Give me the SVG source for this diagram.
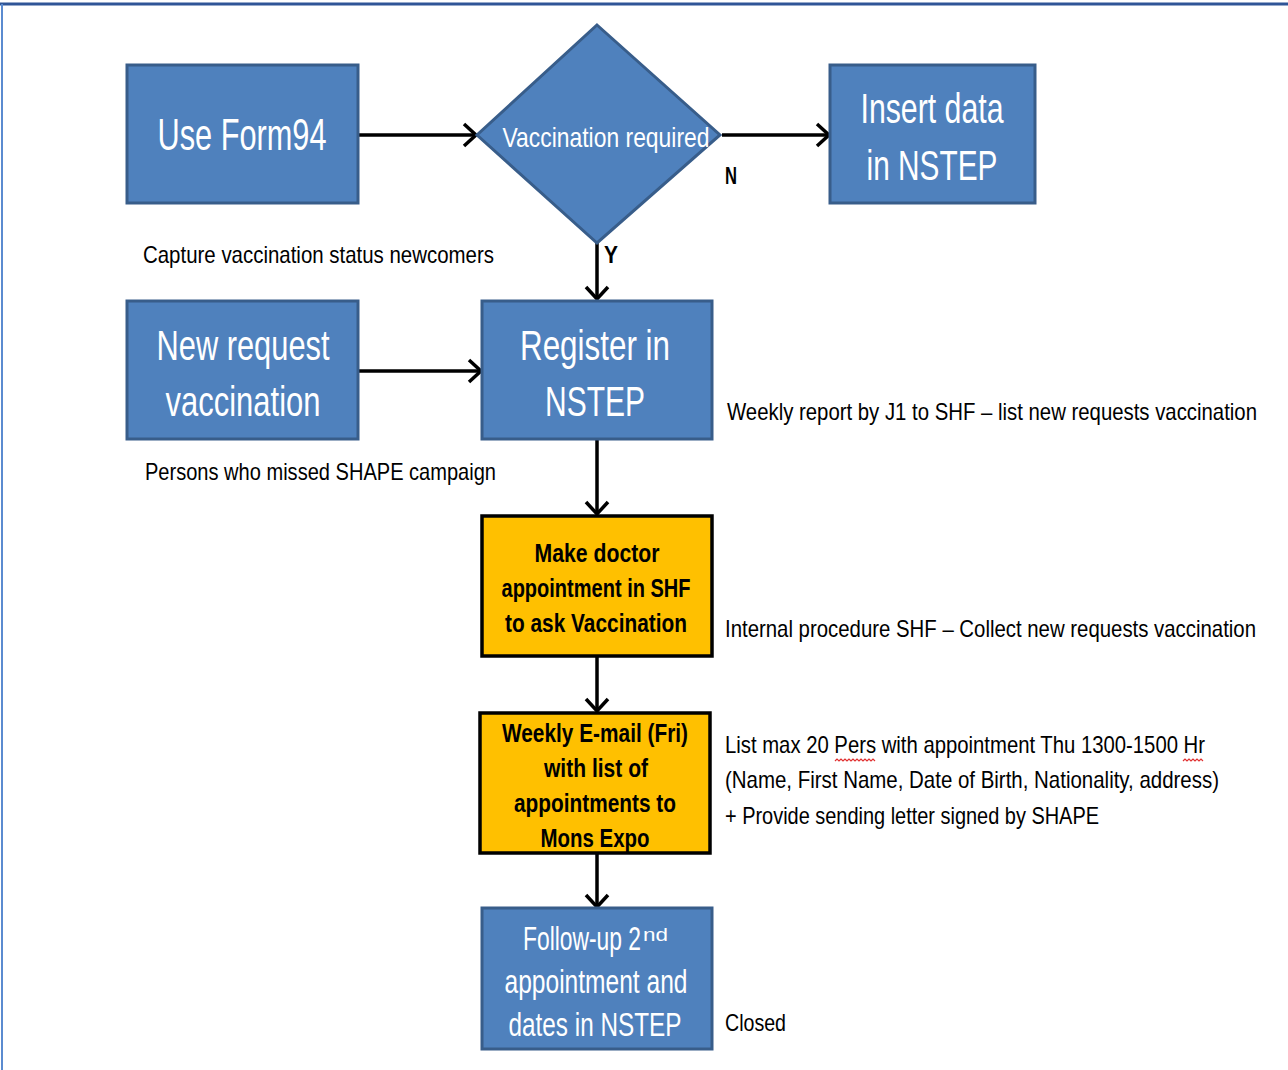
<svg xmlns="http://www.w3.org/2000/svg" width="1288" height="1070" viewBox="0 0 1288 1070">
<style>
text{font-family:"Liberation Sans Narrow","Liberation Sans",Arial,sans-serif}
.blue{fill:#4F81BD;stroke:#385D8A;stroke-width:3}
.gold{fill:#FFC000;stroke:#000;stroke-width:3.5}
.wt{fill:#fff;text-anchor:middle}
.bt{fill:#000;font-weight:bold;text-anchor:middle;font-size:26px}
.lbl{fill:#000;font-size:24px}
.conn line{stroke:#000;stroke-width:3.5;fill:none}
</style>
<defs>
<marker id="arr" markerUnits="userSpaceOnUse" markerWidth="30" markerHeight="30" refX="20" refY="15" orient="auto" viewBox="0 0 30 30">
<path d="M8,4 L20,15 L8,26" fill="none" stroke="#000" stroke-width="3.5"/>
</marker>
</defs>
<rect x="0" y="0" width="1288" height="1070" fill="#fff"/>
<line x1="0" y1="4" x2="1288" y2="4" stroke="#2F5597" stroke-width="3"/>
<line x1="2" y1="4" x2="2" y2="1070" stroke="#5B8BD0" stroke-width="2"/>

<g class="conn">
<line x1="358" y1="135" x2="476" y2="135" marker-end="url(#arr)"/>
<line x1="722" y1="135" x2="829" y2="135" marker-end="url(#arr)"/>
<line x1="597" y1="243" x2="597" y2="299" marker-end="url(#arr)"/>
<line x1="358" y1="371" x2="481" y2="371" marker-end="url(#arr)"/>
<line x1="597" y1="439" x2="597" y2="514" marker-end="url(#arr)"/>
<line x1="597" y1="656" x2="597" y2="711" marker-end="url(#arr)"/>
<line x1="597" y1="853" x2="597" y2="907" marker-end="url(#arr)"/>
</g>

<g id="n-form94">
<rect class="blue" x="127" y="65" width="231" height="138"/>
<text class="wt" x="242" y="150" font-size="44" textLength="169" lengthAdjust="spacingAndGlyphs">Use Form94</text>
</g>
<g id="n-decision">
<polygon class="blue" points="597,25 720,135 597,243 477,135" stroke-width="2"/>
<text class="wt" x="606" y="147" font-size="28" textLength="207" lengthAdjust="spacingAndGlyphs">Vaccination required</text>
</g>
<g id="n-insert">
<rect class="blue" x="830" y="65" width="205" height="138"/>
<text class="wt" x="932" y="123" font-size="42" textLength="143" lengthAdjust="spacingAndGlyphs">Insert data</text>
<text class="wt" x="932" y="180" font-size="42" textLength="131" lengthAdjust="spacingAndGlyphs">in NSTEP</text>
</g>
<g id="n-newrequest">
<rect class="blue" x="127" y="301" width="231" height="138"/>
<text class="wt" x="243" y="360" font-size="42" textLength="173" lengthAdjust="spacingAndGlyphs">New request</text>
<text class="wt" x="243" y="416" font-size="42" textLength="155" lengthAdjust="spacingAndGlyphs">vaccination</text>
</g>
<g id="n-register">
<rect class="blue" x="482" y="301" width="230" height="138"/>
<text class="wt" x="595" y="360" font-size="42" textLength="150" lengthAdjust="spacingAndGlyphs">Register in</text>
<text class="wt" x="595" y="416" font-size="42" textLength="100" lengthAdjust="spacingAndGlyphs">NSTEP</text>
</g>
<g id="n-doctor">
<rect class="gold" x="482" y="516" width="230" height="140"/>
<text class="bt" x="597" y="562" textLength="125" lengthAdjust="spacingAndGlyphs">Make doctor</text>
<text class="bt" x="596" y="597" textLength="189" lengthAdjust="spacingAndGlyphs">appointment in SHF</text>
<text class="bt" x="596" y="632" textLength="182" lengthAdjust="spacingAndGlyphs">to ask Vaccination</text>
</g>
<g id="n-email">
<rect class="gold" x="480" y="713" width="230" height="140"/>
<text class="bt" x="595" y="742" textLength="186" lengthAdjust="spacingAndGlyphs">Weekly E-mail (Fri)</text>
<text class="bt" x="596" y="777" textLength="104" lengthAdjust="spacingAndGlyphs">with list of</text>
<text class="bt" x="595" y="812" textLength="162" lengthAdjust="spacingAndGlyphs">appointments to</text>
<text class="bt" x="595" y="847" textLength="109" lengthAdjust="spacingAndGlyphs">Mons Expo</text>
</g>
<g id="n-followup">
<rect class="blue" x="482" y="908" width="230" height="141"/>
<text class="wt" x="582" y="950" font-size="34" textLength="118" lengthAdjust="spacingAndGlyphs">Follow-up 2</text>
<text x="643" y="941" font-size="18" fill="#fff" textLength="25" lengthAdjust="spacingAndGlyphs">nd</text>
<text class="wt" x="596" y="993" font-size="34" textLength="183" lengthAdjust="spacingAndGlyphs">appointment and</text>
<text class="wt" x="595" y="1036" font-size="34" textLength="173" lengthAdjust="spacingAndGlyphs">dates in NSTEP</text>
</g>

<g id="labels">
<text class="lbl" x="725" y="184" font-size="22" font-weight="bold" textLength="12" lengthAdjust="spacingAndGlyphs">N</text>
<text class="lbl" x="604" y="263" font-size="22" font-weight="bold" textLength="14" lengthAdjust="spacingAndGlyphs">Y</text>
<text class="lbl" x="143" y="263" textLength="351" lengthAdjust="spacingAndGlyphs">Capture vaccination status newcomers</text>
<text class="lbl" x="145" y="480" textLength="351" lengthAdjust="spacingAndGlyphs">Persons who missed SHAPE campaign</text>
<text class="lbl" x="727" y="420" textLength="530" lengthAdjust="spacingAndGlyphs">Weekly report by J1 to SHF – list new requests vaccination</text>
<text class="lbl" x="725" y="637" textLength="531" lengthAdjust="spacingAndGlyphs">Internal procedure SHF – Collect new requests vaccination</text>
<text class="lbl" x="725" y="753" textLength="480" lengthAdjust="spacingAndGlyphs">List max 20 Pers with appointment Thu 1300-1500 Hr</text>
<text class="lbl" x="725" y="788" textLength="494" lengthAdjust="spacingAndGlyphs">(Name, First Name, Date of Birth, Nationality, address)</text>
<text class="lbl" x="725" y="824" textLength="374" lengthAdjust="spacingAndGlyphs">+ Provide sending letter signed by SHAPE</text>
<text class="lbl" x="725" y="1031" textLength="61" lengthAdjust="spacingAndGlyphs">Closed</text>
<path d="M835,761 l2,-2 l2,2 l2,-2 l2,2 l2,-2 l2,2 l2,-2 l2,2 l2,-2 l2,2 l2,-2 l2,2 l2,-2 l2,2 l2,-2 l2,2 l2,-2 l2,2 l2,-2 l2,2" fill="none" stroke="#E03030" stroke-width="1.2"/>
<path d="M1183,761 l2,-2 l2,2 l2,-2 l2,2 l2,-2 l2,2 l2,-2 l2,2 l2,-2 l2,2" fill="none" stroke="#E03030" stroke-width="1.2"/>
</g>
</svg>
